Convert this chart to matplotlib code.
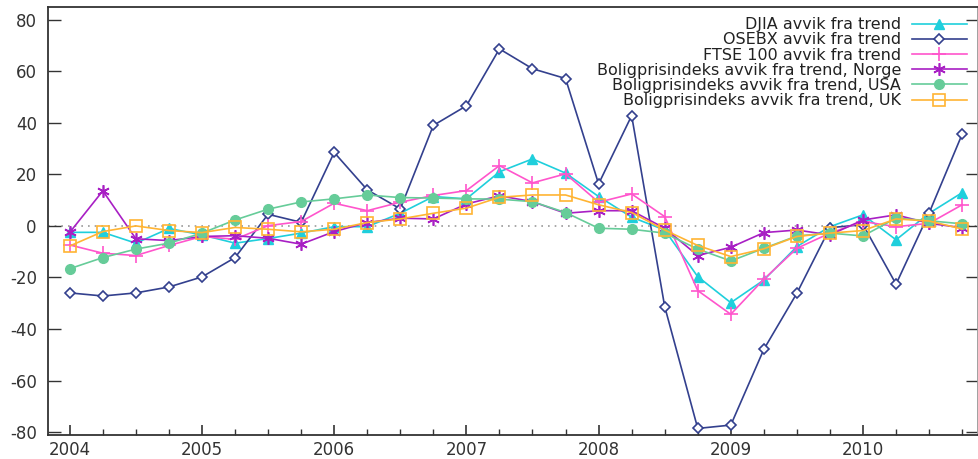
import numpy as np
import matplotlib
matplotlib.use('Agg')
import matplotlib.pyplot as plt
from matplotlib.ticker import MultipleLocator

plt.rcParams['axes.unicode_minus'] = False

# kvartalsvis, 2004K1 - 2010K4
aar = [2004, 2005, 2006, 2007, 2008, 2009, 2010]
kvartal = np.arange(2004, 2011, 0.25)

djia = [-2.5, -2.5, -6.7, -1.0, -3.5, -6.7, -4.9, -2.8, -0.3, -0.3, 4.9, 11.4, 10.5, 21.0,
        26.0, 20.5, 11.4, 3.4, -1.6, -19.7, -29.8, -21.0, -8.0, -0.3, 4.3, -5.4, 4.9, 12.9]
osebx = [-26.0, -27.2, -26.0, -23.7, -19.8, -12.3, 4.5, 1.4, 28.5, 14.0, 6.6, 39.0, 46.6, 68.7,
         61.0, 57.2, 16.3, 42.8, -31.3, -78.6, -77.3, -47.9, -26.1, -0.7, 0.5, -22.6, 5.0, 35.6]
ftse = [-7.4, -10.6, -11.5, -7.6, -4.1, -5.2, 0.1, 1.7, 8.8, 5.9, 9.2, 11.8, 13.7, 23.4,
        16.7, 20.2, 9.2, 12.4, 3.6, -25.1, -34.3, -20.7, -8.7, -2.8, 1.7, -0.3, 1.0, 8.2]
norge = [-2.5, 13.6, -5.0, -5.7, -4.1, -3.8, -4.8, -7.1, -2.2, 1.3, 3.0, 2.7, 8.5, 11.7,
         9.4, 4.9, 5.9, 5.9, -0.9, -11.5, -8.3, -2.6, -1.6, -3.5, 2.3, 4.3, 1.0, -0.7]
usa = [-16.6, -12.3, -9.0, -6.7, -2.8, 2.3, 6.5, 9.3, 10.5, 12.0, 11.0, 10.8, 10.5, 10.4,
       9.4, 5.2, -0.9, -1.3, -2.8, -9.0, -13.6, -8.7, -3.9, -2.8, -3.9, 3.0, 2.0, 0.8]
uk = [-7.8, -2.2, 0.0, -1.8, -2.6, -0.6, -1.3, -2.3, -1.3, 1.3, 2.7, 4.9, 6.9, 11.1,
      12.0, 12.0, 8.2, 5.2, -1.6, -7.6, -11.9, -8.9, -4.1, -2.8, -1.8, 2.7, 1.9, -1.2]

serier = [
    (djia, 'DJIA avvik fra trend', '#1fcfdc', '^', dict(markersize=7)),
    (osebx, 'OSEBX avvik fra trend', '#33408e', 'D', dict(markersize=5, mfc='white', mew=1.2)),
    (ftse, 'FTSE 100 avvik fra trend', '#ff55cc', '+', dict(markersize=10, mew=1.2)),
    (norge, 'Boligprisindeks avvik fra trend, Norge', '#a81fc4', (6, 2, 0), dict(markersize=9, mew=1.2)),
    (usa, 'Boligprisindeks avvik fra trend, USA', '#66cc99', 'o', dict(markersize=7)),
    (uk, 'Boligprisindeks avvik fra trend, UK', '#ffb433', 's', dict(markersize=8, mfc='none', mew=1.2)),
]

fig = plt.figure(figsize=(9.79, 4.59), dpi=100)
ax = fig.add_axes([0.049, 0.052, 0.950, 0.933])

ax.axhline(0, color='#999999', linestyle=(0, (1, 3)), linewidth=1.2, zorder=1)

for verdier, navn, farge, markor, stil in serier:
    ax.plot(kvartal, verdier, color=farge, marker=markor, linewidth=1.2,
            label=navn, zorder=3, **stil)

ax.set_xlim(2003.835, 2010.87)
ax.set_ylim(-81.2, 85)
ax.set_yticks(range(-80, 81, 20))
ax.set_xticks(aar)
ax.xaxis.set_minor_locator(MultipleLocator(0.25))

ax.tick_params(axis='y', direction='in', length=9, width=1, labelsize=12,
               colors='#333333', right=True, pad=8)
ax.tick_params(axis='x', which='major', direction='in', length=7, width=1.2,
               labelsize=12, colors='#333333', pad=4)
ax.tick_params(axis='x', which='minor', direction='in', length=4, width=1, colors='#333333')
for s in ax.spines.values():
    s.set_color('#333333')
    s.set_linewidth(1.3)
ax.spines['right'].set_color('#999999')

leg = ax.legend(loc='upper right', bbox_to_anchor=(0.998, 0.998), frameon=False,
                markerfirst=False, fontsize=11.5, labelspacing=0.01, handlelength=3.4,
                handletextpad=0.7, borderaxespad=0.2)
for t in leg.get_texts():
    t.set_color('#222222')

fig.savefig('out.png', dpi=100)
